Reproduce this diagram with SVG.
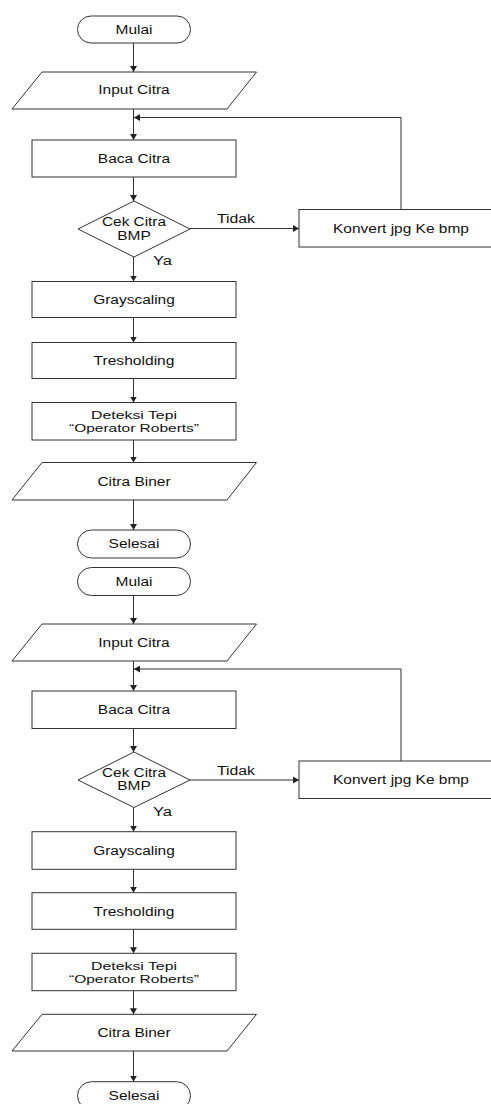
<svg xmlns="http://www.w3.org/2000/svg" width="491" height="1104" viewBox="0 0 491 1104">
<defs>
<style>
.s{fill:#fff;stroke:#333;stroke-width:1}
.c{fill:none;stroke:#333;stroke-width:1}
.t{font-family:"Liberation Sans",Arial,sans-serif;font-size:12px;fill:#111;text-anchor:middle}
.t2{font-size:11px}
</style>
<marker id="ah" markerUnits="userSpaceOnUse" markerWidth="7" markerHeight="7" refX="6" refY="3.5" orient="auto">
<path d="M0,0 L6,3.5 L0,7 z" fill="#222"/>
</marker>
</defs>
<rect width="491" height="1104" fill="#fff"/>

<g id="connectors">
<line class="c" x1="133.5" y1="43" x2="133.5" y2="72" marker-end="url(#ah)"/>
<line class="c" x1="133.5" y1="109" x2="133.5" y2="140" marker-end="url(#ah)"/>
<polyline class="c" points="401,209.5 401,117.5 134,117.5" marker-end="url(#ah)"/>
<line class="c" x1="133.5" y1="177" x2="133.5" y2="201" marker-end="url(#ah)"/>
<line class="c" x1="190" y1="228.5" x2="299" y2="228.5" marker-end="url(#ah)"/>
<line class="c" x1="133.5" y1="257" x2="133.5" y2="281.5" marker-end="url(#ah)"/>
<line class="c" x1="133.5" y1="317.5" x2="133.5" y2="342.5" marker-end="url(#ah)"/>
<line class="c" x1="133.5" y1="378.5" x2="133.5" y2="402.5" marker-end="url(#ah)"/>
<line class="c" x1="133.5" y1="440" x2="133.5" y2="462.5" marker-end="url(#ah)"/>
<line class="c" x1="133.5" y1="500" x2="133.5" y2="530" marker-end="url(#ah)"/>

<line class="c" x1="133.5" y1="595.5" x2="133.5" y2="624" marker-end="url(#ah)"/>
<line class="c" x1="133.5" y1="661" x2="133.5" y2="691" marker-end="url(#ah)"/>
<polyline class="c" points="401,761 401,669 134,669" marker-end="url(#ah)"/>
<line class="c" x1="133.5" y1="728.5" x2="133.5" y2="752" marker-end="url(#ah)"/>
<line class="c" x1="190" y1="780" x2="299" y2="780" marker-end="url(#ah)"/>
<line class="c" x1="133.5" y1="807.5" x2="133.5" y2="831.7" marker-end="url(#ah)"/>
<line class="c" x1="133.5" y1="869.3" x2="133.5" y2="892.7" marker-end="url(#ah)"/>
<line class="c" x1="133.5" y1="929.3" x2="133.5" y2="953.3" marker-end="url(#ah)"/>
<line class="c" x1="133.5" y1="990.7" x2="133.5" y2="1014.3" marker-end="url(#ah)"/>
<line class="c" x1="133.5" y1="1051" x2="133.5" y2="1081.7" marker-end="url(#ah)"/>
</g>

<g id="mulai1"><rect class="s" x="77.5" y="16" width="113" height="27" rx="13.5"/><text class="t" x="134" y="33.8" textLength="37" lengthAdjust="spacingAndGlyphs">Mulai</text></g>
<g id="input1"><polygon class="s" points="42,72 256.5,72 227,109 12,109"/><text class="t" x="134" y="94.3" textLength="71.4" lengthAdjust="spacingAndGlyphs">Input Citra</text></g>
<g id="baca1"><rect class="s" x="32" y="140" width="204" height="37"/><text class="t" x="134" y="162.8" textLength="72.3" lengthAdjust="spacingAndGlyphs">Baca Citra</text></g>
<g id="cek1"><polygon class="s" points="134,201 190,229 134,257 78,229"/><text class="t" x="134" y="226.4" textLength="64" lengthAdjust="spacingAndGlyphs">Cek Citra</text><text class="t" x="134" y="239.6" textLength="33.5" lengthAdjust="spacingAndGlyphs">BMP</text></g>
<g id="konvert1"><rect class="s" x="299" y="209.5" width="200" height="37.5"/><text class="t" x="401" y="232.5" textLength="136" lengthAdjust="spacingAndGlyphs">Konvert jpg Ke bmp</text></g>
<g id="label-tidak1"><text class="t" x="236" y="223.3" textLength="38" lengthAdjust="spacingAndGlyphs">Tidak</text></g>
<g id="label-ya1"><text class="t" x="162.5" y="265" textLength="19" lengthAdjust="spacingAndGlyphs">Ya</text></g>
<g id="gray1"><rect class="s" x="32" y="281.5" width="204" height="36"/><text class="t" x="134" y="303.8" textLength="81.7" lengthAdjust="spacingAndGlyphs">Grayscaling</text></g>
<g id="tresh1"><rect class="s" x="32" y="342.5" width="204" height="36"/><text class="t" x="134" y="364.8" textLength="80.9" lengthAdjust="spacingAndGlyphs">Tresholding</text></g>
<g id="deteksi1"><rect class="s" x="32" y="402.5" width="204" height="37.5"/><text class="t t2" x="134" y="419.3" textLength="86" lengthAdjust="spacingAndGlyphs">Deteksi Tepi</text><text class="t t2" x="134" y="431.6" textLength="130" lengthAdjust="spacingAndGlyphs">“Operator Roberts”</text></g>
<g id="biner1"><polygon class="s" points="42,462.5 256.5,462.5 227,500 12,500"/><text class="t" x="134" y="485.5" textLength="73.1" lengthAdjust="spacingAndGlyphs">Citra Biner</text></g>
<g id="selesai1"><rect class="s" x="77.5" y="530" width="113" height="28" rx="14"/><text class="t" x="134" y="548.3" textLength="50.8" lengthAdjust="spacingAndGlyphs">Selesai</text></g>

<g id="mulai2"><rect class="s" x="77.5" y="567.5" width="113" height="28" rx="14"/><text class="t" x="134" y="585.5" textLength="37" lengthAdjust="spacingAndGlyphs">Mulai</text></g>
<g id="input2"><polygon class="s" points="42,624 256.5,624 227,661 12,661"/><text class="t" x="134" y="647" textLength="71.4" lengthAdjust="spacingAndGlyphs">Input Citra</text></g>
<g id="baca2"><rect class="s" x="32" y="691" width="204" height="37.5"/><text class="t" x="134" y="714" textLength="72.3" lengthAdjust="spacingAndGlyphs">Baca Citra</text></g>
<g id="cek2"><polygon class="s" points="134,752 190,780 134,807.5 78,780"/><text class="t" x="134" y="776.8" textLength="64" lengthAdjust="spacingAndGlyphs">Cek Citra</text><text class="t" x="134" y="789.8" textLength="33.5" lengthAdjust="spacingAndGlyphs">BMP</text></g>
<g id="konvert2"><rect class="s" x="299" y="761" width="200" height="37.5"/><text class="t" x="401" y="784.3" textLength="136" lengthAdjust="spacingAndGlyphs">Konvert jpg Ke bmp</text></g>
<g id="label-tidak2"><text class="t" x="236" y="775" textLength="38" lengthAdjust="spacingAndGlyphs">Tidak</text></g>
<g id="label-ya2"><text class="t" x="162.5" y="816" textLength="19" lengthAdjust="spacingAndGlyphs">Ya</text></g>
<g id="gray2"><rect class="s" x="32" y="831.7" width="204" height="37.6"/><text class="t" x="134" y="855" textLength="81.7" lengthAdjust="spacingAndGlyphs">Grayscaling</text></g>
<g id="tresh2"><rect class="s" x="32" y="892.7" width="204" height="36.6"/><text class="t" x="134" y="915.8" textLength="80.9" lengthAdjust="spacingAndGlyphs">Tresholding</text></g>
<g id="deteksi2"><rect class="s" x="32" y="953.3" width="204" height="37.4"/><text class="t t2" x="134" y="970.2" textLength="86" lengthAdjust="spacingAndGlyphs">Deteksi Tepi</text><text class="t t2" x="134" y="982.5" textLength="130" lengthAdjust="spacingAndGlyphs">“Operator Roberts”</text></g>
<g id="biner2"><polygon class="s" points="42,1014.3 256.5,1014.3 227,1051 12,1051"/><text class="t" x="134" y="1037" textLength="73.1" lengthAdjust="spacingAndGlyphs">Citra Biner</text></g>
<g id="selesai2"><rect class="s" x="77.5" y="1081.7" width="113" height="28" rx="14"/><text class="t" x="134" y="1100.3" textLength="50.8" lengthAdjust="spacingAndGlyphs">Selesai</text></g>
</svg>
